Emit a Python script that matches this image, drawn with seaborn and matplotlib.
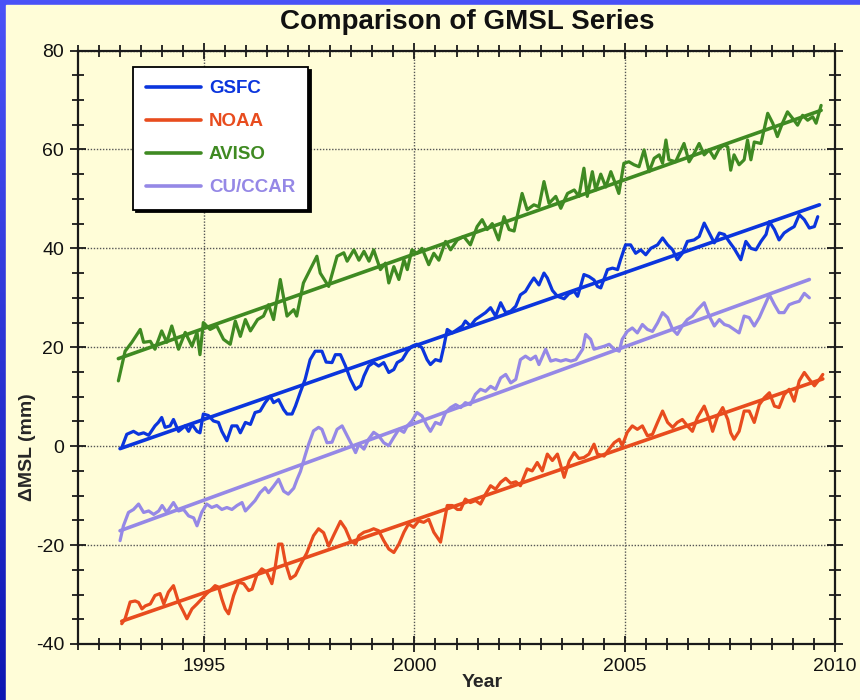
import numpy as np
import pandas as pd
import matplotlib
matplotlib.use("Agg")
import matplotlib.pyplot as plt
import seaborn as sns
from matplotlib.patches import Rectangle
from matplotlib.colors import LinearSegmentedColormap

# ---------------- data ----------------
series_names = ["GSFC", "NOAA", "AVISO", "CU/CCAR"]
series_colors = ["#0b35dd", "#e84c1e", "#3f8a22", "#9588e6"]

gsfc_years = [1993.04, 1993.16, 1993.32, 1993.44, 1993.56, 1993.68, 1993.83, 1993.91, 1993.99, 1994.07,
              1994.19, 1994.27, 1994.39, 1994.55, 1994.63, 1994.71, 1994.83, 1994.90, 1994.98, 1995.10,
              1995.22, 1995.34, 1995.42, 1995.54, 1995.66, 1995.78, 1995.86, 1995.98, 1996.10, 1996.21,
              1996.33, 1996.45, 1996.57, 1996.65, 1996.77, 1996.89, 1996.97, 1997.09, 1997.17, 1997.29,
              1997.40, 1997.52, 1997.64, 1997.80, 1997.90, 1998.04, 1998.12, 1998.24, 1998.36, 1998.48,
              1998.60, 1998.72, 1998.80, 1998.91, 1999.03, 1999.15, 1999.27, 1999.39, 1999.51, 1999.59,
              1999.71, 1999.83, 1999.94, 2000.06, 2000.18, 2000.30, 2000.38, 2000.50, 2000.62, 2000.70,
              2000.78, 2000.90, 2001.02, 2001.14, 2001.21, 2001.33, 2001.45, 2001.57, 2001.69, 2001.81,
              2001.93, 2002.05, 2002.17, 2002.29, 2002.41, 2002.52, 2002.64, 2002.76, 2002.84, 2002.96,
              2003.08, 2003.16, 2003.28, 2003.40, 2003.56, 2003.67, 2003.80, 2003.88, 2003.95, 2004.03,
              2004.15, 2004.27, 2004.35, 2004.43, 2004.59, 2004.71, 2004.83, 2004.90, 2005.02, 2005.14,
              2005.26, 2005.38, 2005.50, 2005.62, 2005.78, 2005.90, 2006.02, 2006.14, 2006.25, 2006.37,
              2006.49, 2006.65, 2006.77, 2006.89, 2007.01, 2007.13, 2007.25, 2007.37, 2007.48, 2007.60,
              2007.76, 2007.88, 2008.00, 2008.12, 2008.24, 2008.36, 2008.44, 2008.56, 2008.67, 2008.79,
              2008.91, 2009.03, 2009.15, 2009.27, 2009.39, 2009.51, 2009.59]
gsfc_mm = [-0.3, 2.4, 3.0, 2.4, 2.7, 2.2, 4.1, 4.8, 5.8, 3.8,
           4.1, 5.4, 3.0, 4.1, 3.0, 4.4, 3.0, 2.7, 6.5, 6.2,
           5.1, 4.8, 3.0, 1.1, 4.1, 4.1, 2.7, 4.8, 4.4, 6.8,
           7.1, 8.8, 10.1, 8.8, 9.4, 7.4, 6.5, 6.5, 8.1, 11.0,
           13.5, 17.5, 19.2, 19.2, 17.0, 16.9, 18.5, 18.5, 16.2, 13.5,
           11.5, 12.2, 14.2, 16.2, 16.9, 16.2, 16.9, 14.9, 15.5, 16.9,
           17.5, 19.2, 20.2, 20.6, 19.9, 17.5, 16.5, 17.5, 17.2, 20.2,
           23.6, 22.9, 23.6, 24.3, 25.3, 24.3, 25.6, 26.3, 27.0, 28.0,
           26.3, 29.0, 27.0, 27.3, 28.3, 30.6, 31.3, 33.0, 34.0, 32.6,
           35.0, 34.0, 31.5, 30.3, 29.8, 30.8, 31.3, 30.3, 32.3, 34.7,
           34.3, 33.6, 32.3, 32.0, 35.7, 36.0, 35.7, 37.7, 40.7, 40.7,
           39.0, 39.7, 38.7, 40.0, 40.7, 42.1, 40.7, 39.7, 37.7, 39.0,
           41.4, 41.7, 42.4, 45.1, 43.1, 41.1, 43.1, 42.8, 41.4, 40.0,
           37.7, 41.4, 40.0, 39.7, 41.4, 42.8, 45.4, 43.8, 41.7, 43.1,
           43.8, 44.4, 46.8, 45.8, 44.1, 44.4, 46.4]

noaa_years = [1993.04, 1993.12, 1993.24, 1993.36, 1993.44, 1993.52, 1993.60, 1993.72, 1993.83, 1993.95,
              1994.04, 1994.15, 1994.27, 1994.39, 1994.51, 1994.59, 1994.71, 1994.83, 1994.94, 1995.06,
              1995.18, 1995.26, 1995.34, 1995.42, 1995.50, 1995.58, 1995.70, 1995.82, 1995.94, 1996.06,
              1996.14, 1996.25, 1996.37, 1996.49, 1996.61, 1996.69, 1996.77, 1996.85, 1996.93, 1997.05,
              1997.17, 1997.29, 1997.44, 1997.60, 1997.72, 1997.84, 1997.96, 1998.08, 1998.24, 1998.36,
              1998.48, 1998.60, 1998.68, 1998.80, 1998.92, 1999.03, 1999.15, 1999.27, 1999.39, 1999.51,
              1999.63, 1999.75, 1999.86, 1999.98, 2000.10, 2000.22, 2000.34, 2000.46, 2000.62, 2000.78,
              2000.90, 2001.02, 2001.10, 2001.21, 2001.33, 2001.45, 2001.57, 2001.69, 2001.81, 2001.93,
              2002.05, 2002.17, 2002.29, 2002.41, 2002.52, 2002.68, 2002.80, 2002.92, 2003.04, 2003.16,
              2003.28, 2003.40, 2003.56, 2003.68, 2003.80, 2003.91, 2004.03, 2004.15, 2004.27, 2004.35,
              2004.51, 2004.63, 2004.75, 2004.87, 2004.94, 2005.06, 2005.18, 2005.30, 2005.42, 2005.54,
              2005.66, 2005.78, 2005.90, 2006.02, 2006.14, 2006.25, 2006.37, 2006.49, 2006.61, 2006.73,
              2006.89, 2007.01, 2007.09, 2007.21, 2007.33, 2007.45, 2007.52, 2007.60, 2007.72, 2007.84,
              2007.96, 2008.08, 2008.20, 2008.32, 2008.44, 2008.56, 2008.67, 2008.79, 2008.91, 2009.03,
              2009.15, 2009.27, 2009.39, 2009.51, 2009.63, 2009.71]
noaa_mm = [-35.9, -34.9, -31.5, -31.3, -31.6, -32.9, -32.3, -31.9, -30.2, -29.8,
           -31.9, -29.5, -28.2, -31.5, -33.5, -34.9, -32.9, -31.9, -30.9, -29.8,
           -28.9, -28.2, -28.5, -30.9, -32.9, -33.9, -30.2, -27.5, -27.8, -29.2,
           -28.9, -26.1, -24.8, -25.5, -27.8, -24.4, -19.8, -19.8, -23.5, -26.8,
           -26.1, -24.0, -21.6, -18.1, -16.7, -17.5, -20.2, -18.0, -15.2, -16.7,
           -19.1, -19.8, -18.1, -17.4, -17.1, -16.7, -17.1, -19.1, -20.8, -21.5,
           -19.8, -17.4, -15.7, -16.4, -15.1, -15.4, -14.8, -17.4, -19.4, -12.0,
           -12.0, -12.8, -12.8, -10.7, -11.4, -11.0, -11.7, -9.7, -8.0, -8.7,
           -7.3, -6.5, -7.5, -7.2, -8.0, -4.6, -5.0, -3.3, -5.0, -1.6,
           -2.9, -1.6, -6.3, -3.0, -1.3, -2.5, -2.3, -1.6, 0.4, -1.6,
           -2.0, -0.6, 0.7, 1.4, 0.1, 2.8, 4.1, 3.4, 4.1, 2.1,
           2.4, 4.8, 7.1, 4.8, 3.8, 4.8, 5.4, 4.1, 3.0, 5.8,
           8.1, 5.4, 3.0, 6.1, 7.8, 5.4, 2.7, 1.4, 3.0, 7.1,
           7.1, 4.8, 8.4, 9.8, 10.8, 8.1, 7.8, 10.4, 11.5, 9.1,
           13.2, 14.9, 13.5, 12.2, 13.5, 14.5]

aviso_years = [1992.96, 1993.12, 1993.28, 1993.48, 1993.56, 1993.72, 1993.83, 1993.99, 1994.11, 1994.23,
               1994.39, 1994.55, 1994.71, 1994.83, 1994.90, 1994.98, 1995.14, 1995.30, 1995.46, 1995.62,
               1995.74, 1995.86, 1995.98, 1996.10, 1996.27, 1996.41, 1996.53, 1996.65, 1996.81, 1996.97,
               1997.13, 1997.20, 1997.36, 1997.52, 1997.68, 1997.76, 1997.96, 1998.16, 1998.32, 1998.40,
               1998.56, 1998.68, 1998.80, 1998.92, 1999.03, 1999.19, 1999.31, 1999.39, 1999.51, 1999.63,
               1999.75, 1999.83, 1999.94, 2000.06, 2000.18, 2000.34, 2000.46, 2000.58, 2000.74, 2000.86,
               2001.02, 2001.17, 2001.33, 2001.49, 2001.61, 2001.73, 2001.85, 2002.00, 2002.13, 2002.25,
               2002.37, 2002.56, 2002.68, 2002.84, 2002.96, 2003.08, 2003.20, 2003.36, 2003.48, 2003.64,
               2003.80, 2003.91, 2004.03, 2004.11, 2004.23, 2004.31, 2004.43, 2004.55, 2004.67, 2004.79,
               2004.86, 2004.98, 2005.10, 2005.22, 2005.34, 2005.46, 2005.58, 2005.70, 2005.82, 2005.90,
               2005.98, 2006.05, 2006.21, 2006.41, 2006.53, 2006.65, 2006.77, 2006.89, 2007.01, 2007.13,
               2007.25, 2007.37, 2007.45, 2007.52, 2007.60, 2007.72, 2007.84, 2007.92, 2008.00, 2008.08,
               2008.24, 2008.40, 2008.52, 2008.63, 2008.75, 2008.87, 2008.99, 2009.11, 2009.23, 2009.35,
               2009.47, 2009.55, 2009.67]
aviso_mm = [13.2, 19.2, 21.0, 23.6, 21.0, 21.2, 19.6, 23.3, 21.0, 24.3,
            19.6, 23.0, 20.2, 23.0, 18.5, 25.0, 23.6, 24.3, 21.6, 20.6,
            25.3, 22.2, 25.6, 23.3, 25.6, 26.3, 28.6, 25.6, 33.7, 26.3,
            27.6, 26.3, 33.0, 35.7, 38.4, 35.0, 32.3, 38.4, 39.1, 37.4,
            39.7, 37.6, 39.4, 37.4, 39.7, 35.7, 37.0, 33.0, 36.3, 33.7,
            37.7, 35.7, 39.7, 39.0, 40.0, 36.7, 39.0, 37.6, 41.4, 39.7,
            41.7, 42.4, 40.7, 44.4, 45.8, 43.8, 45.0, 41.7, 46.4, 43.8,
            43.5, 51.1, 47.8, 48.8, 48.4, 53.5, 49.1, 50.5, 48.1, 51.1,
            51.8, 50.5, 56.2, 50.5, 55.5, 51.8, 55.0, 52.4, 55.5, 52.8,
            51.1, 57.2, 57.5, 56.9, 56.5, 59.9, 55.5, 58.2, 58.9, 57.2,
            61.9, 57.9, 57.5, 61.2, 57.5, 59.2, 61.2, 58.9, 59.9, 58.2,
            60.2, 60.9, 60.5, 55.8, 58.9, 56.9, 57.9, 61.9, 57.9, 61.5,
            61.2, 67.3, 65.3, 62.6, 65.3, 67.6, 66.3, 64.9, 66.9, 65.9,
            66.6, 65.3, 68.9]

cu_years = [1993.00, 1993.08, 1993.20, 1993.32, 1993.44, 1993.56, 1993.68, 1993.80, 1993.92, 1994.00,
            1994.11, 1994.27, 1994.39, 1994.51, 1994.63, 1994.75, 1994.83, 1994.94, 1995.06, 1995.18,
            1995.30, 1995.42, 1995.54, 1995.66, 1995.78, 1995.90, 1995.98, 1996.10, 1996.21, 1996.33,
            1996.45, 1996.53, 1996.65, 1996.77, 1996.89, 1997.00, 1997.13, 1997.21, 1997.29, 1997.40,
            1997.48, 1997.60, 1997.72, 1997.80, 1997.92, 1998.04, 1998.16, 1998.28, 1998.40, 1998.52,
            1998.60, 1998.68, 1998.80, 1998.91, 1999.03, 1999.15, 1999.27, 1999.39, 1999.51, 1999.63,
            1999.75, 1999.83, 1999.94, 2000.06, 2000.18, 2000.30, 2000.38, 2000.50, 2000.62, 2000.74,
            2000.86, 2000.98, 2001.10, 2001.21, 2001.33, 2001.45, 2001.57, 2001.69, 2001.81, 2001.93,
            2002.05, 2002.17, 2002.29, 2002.41, 2002.52, 2002.64, 2002.76, 2002.88, 2002.96, 2003.12,
            2003.24, 2003.36, 2003.48, 2003.60, 2003.72, 2003.84, 2004.00, 2004.07, 2004.19, 2004.27,
            2004.39, 2004.51, 2004.63, 2004.75, 2004.87, 2004.94, 2005.06, 2005.18, 2005.30, 2005.42,
            2005.54, 2005.66, 2005.78, 2005.90, 2006.02, 2006.14, 2006.25, 2006.37, 2006.49, 2006.61,
            2006.73, 2006.89, 2007.01, 2007.13, 2007.25, 2007.37, 2007.48, 2007.60, 2007.72, 2007.84,
            2007.96, 2008.08, 2008.20, 2008.32, 2008.44, 2008.56, 2008.67, 2008.79, 2008.91, 2009.03,
            2009.15, 2009.27, 2009.39]
cu_mm = [-19.1, -16.1, -13.4, -12.8, -11.7, -13.4, -13.1, -13.8, -13.1, -12.0,
         -13.4, -11.4, -13.1, -12.8, -14.1, -14.5, -16.1, -13.4, -11.7, -12.4,
         -12.0, -12.8, -12.4, -12.8, -12.0, -11.4, -13.1, -12.0, -11.0, -9.4,
         -8.4, -9.4, -8.1, -6.7, -9.1, -9.7, -8.5, -6.7, -5.1, -1.9,
         0.3, 3.1, 3.8, 3.4, 0.7, 0.8, 3.4, 4.1, 2.1, 0.1,
         -1.3, 0.4, -0.6, 1.4, 2.8, 2.1, 0.7, 0.1, 1.8, 3.4,
         2.8, 4.1, 5.1, 6.8, 6.1, 4.1, 3.0, 4.8, 4.4, 6.8,
         7.8, 8.4, 7.8, 8.8, 8.4, 10.5, 11.5, 11.1, 12.1, 11.5,
         13.8, 14.5, 12.8, 13.5, 17.5, 18.2, 17.5, 18.2, 16.5, 19.6,
         17.2, 17.5, 17.2, 17.5, 17.2, 17.5, 19.6, 22.6, 21.6, 19.6,
         19.9, 20.2, 20.6, 19.6, 19.2, 21.6, 23.2, 23.9, 22.9, 24.6,
         23.6, 23.2, 24.9, 27.0, 26.0, 23.6, 22.6, 24.3, 25.6, 26.3,
         27.6, 29.0, 26.3, 24.3, 25.6, 24.6, 24.3, 23.6, 22.9, 26.3,
         26.0, 24.3, 26.0, 28.3, 30.6, 28.6, 27.0, 27.0, 28.6, 29.0,
         29.3, 30.9, 30.0]

# linear trend lines: (start year, end year) and (start value, end value)
gsfc_trend_years = [1993.0, 2009.63]
gsfc_trend_mm = [-0.5, 48.8]
noaa_trend_years = [1993.04, 2009.71]
noaa_trend_mm = [-35.4, 13.6]
aviso_trend_years = [1992.96, 2009.67]
aviso_trend_mm = [17.7, 67.9]
cu_trend_years = [1993.0, 2009.39]
cu_trend_mm = [-17.1, 33.7]

x_ticks = [1995, 2000, 2005, 2010]
y_ticks = [-40, -20, 0, 20, 40, 60, 80]

# ---------------- build tables ----------------
frames, tframes = [], []
for name, yrs, vals, tyrs, tvals in [
        ("GSFC", gsfc_years, gsfc_mm, gsfc_trend_years, gsfc_trend_mm),
        ("NOAA", noaa_years, noaa_mm, noaa_trend_years, noaa_trend_mm),
        ("AVISO", aviso_years, aviso_mm, aviso_trend_years, aviso_trend_mm),
        ("CU/CCAR", cu_years, cu_mm, cu_trend_years, cu_trend_mm)]:
    frames.append(pd.DataFrame({"Year": yrs, "MSL": vals, "Series": name}))
    tframes.append(pd.DataFrame({"Year": tyrs, "MSL": tvals, "Series": name}))
df = pd.concat(frames, ignore_index=True)
tdf = pd.concat(tframes, ignore_index=True)
palette = dict(zip(series_names, series_colors))

# ---------------- figure ----------------
sns.set_theme(style="ticks")
plt.rcParams["font.family"] = ["Liberation Sans", "DejaVu Sans"]
plt.rcParams["axes.unicode_minus"] = False

W, H = 860, 700
fig = plt.figure(figsize=(W / 100, H / 100), dpi=100)

bg = fig.add_axes([0, 0, 1, 1], zorder=-10)
bg.axis("off")
grad = np.linspace(0, 1, 256).reshape(-1, 1)
cmap = LinearSegmentedColormap.from_list("bord", ["#4a52f8", "#0c16b2"])
bg.imshow(grad, aspect="auto", cmap=cmap, extent=[0, 1, 0, 1])
bg.add_patch(Rectangle((6 / W, 0), 1, 1 - 5 / H, color="#fffdd8", transform=bg.transAxes))
bg.set_xlim(0, 1)
bg.set_ylim(0, 1)

ax = fig.add_axes([78 / W, 56 / H, 757 / W, 593.5 / H])
ax.set_facecolor("#fffdd8")

sns.lineplot(data=df, x="Year", y="MSL", hue="Series", hue_order=series_names,
             palette=palette, estimator=None, sort=True, linewidth=2.3, ax=ax)
sns.lineplot(data=tdf, x="Year", y="MSL", hue="Series", hue_order=series_names,
             palette=palette, estimator=None, linewidth=2.6, legend=False, ax=ax)

ax.set_xlim(1992, 2010)
ax.set_ylim(-40, 80)
ax.set_xticks(x_ticks)
ax.set_yticks(y_ticks)
ax.set_xticks(np.arange(1992, 2010.01, 0.5), minor=True)
ax.set_yticks(np.arange(-40, 80.01, 5), minor=True)
ax.tick_params(which="both", direction="inout", top=True, right=True,
               width=1.3, color="#1a1a1a", labelsize=14, labelcolor="#111111")
ax.tick_params(which="major", length=12, pad=4)
ax.tick_params(which="minor", length=8)
for s in ax.spines.values():
    s.set_linewidth(1.6)
    s.set_color("#1a1a1a")
ax.grid(True, which="major", linestyle=(0, (1, 1.2)), color="#555555", linewidth=1.0)

ax.set_xlabel("Year", fontsize=14, fontweight="bold")
ax.set_ylabel("ΔMSL (mm)", fontsize=14, fontweight="bold")
ax.xaxis.set_label_coords((482 - 78) / 757, -0.050)
ax.yaxis.set_label_coords(-0.056, (644 - 447) / 593.5)

handles, labels = ax.get_legend_handles_labels()
leg = ax.legend(handles, labels, loc="upper left", bbox_to_anchor=(55 / 757, 1 - 16.5 / 593.5),
                borderaxespad=0, frameon=True, fancybox=False,
                shadow={"color": "black", "alpha": 1.0},
                prop={"weight": "bold", "size": 13.5}, labelcolor="linecolor",
                handlelength=2.9, handletextpad=0.45, labelspacing=0.85, borderpad=0.7)
leg.get_frame().set_edgecolor("black")
leg.get_frame().set_linewidth(1.3)
leg.get_frame().set_facecolor("white")
leg.get_frame().set_alpha(1.0)
for lh in leg.get_lines():
    lh.set_linewidth(2.6)

fig.text(467 / W, 1 - 22 / H, "Comparison of GMSL Series", ha="center", va="center",
         fontsize=20, fontweight="bold", color="#111111")

fig.savefig("out.png", dpi=100)
